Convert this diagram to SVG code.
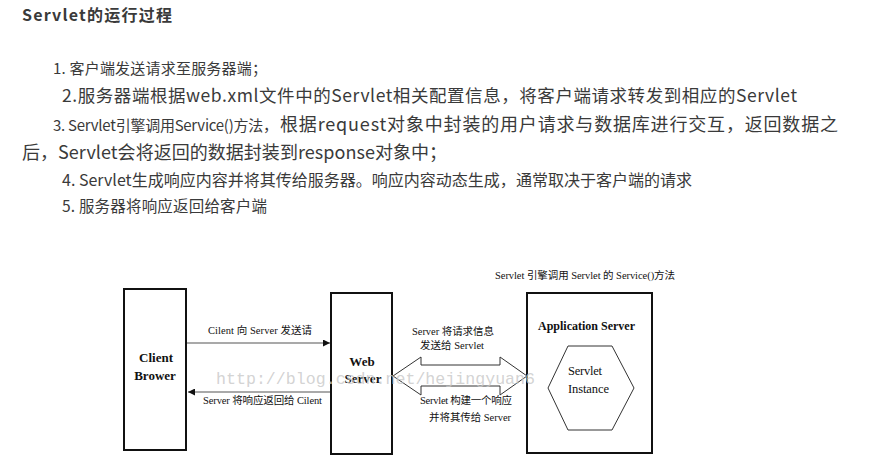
<svg xmlns="http://www.w3.org/2000/svg" width="884" height="468" viewBox="0 0 884 468">
<defs>
<style>
.t{font-family:"Noto Sans CJK SC","Noto Sans",sans-serif;fill:#3a3a3a}
.d{font-family:"Liberation Serif","Noto Sans CJK SC",serif;fill:#111;font-size:10.5px}
.h{font-family:"Liberation Serif","Noto Sans CJK SC",serif;fill:#111;font-size:12.5px}
.b{font-family:"Liberation Serif","Noto Sans CJK SC",serif;fill:#111;font-weight:bold}
.box{fill:none;stroke:#111;stroke-width:2}
.ln{stroke:#555;stroke-width:1.2;fill:none}
</style>
<marker id="ah" viewBox="0 0 8 8" refX="8" refY="4" markerWidth="7" markerHeight="7" markerUnits="userSpaceOnUse" orient="auto">
<path d="M0,0 L8,4 L0,8 Z" fill="#111"/>
</marker>
</defs>
<rect width="884" height="468" fill="#fff"/>
<g id="article">
<text class="t" x="22" y="21" font-size="16" font-weight="bold" textLength="150">Servlet的运行过程</text>
<text class="t" x="53" y="74" font-size="15" textLength="214">1. 客户端发送请求至服务器端；</text>
<text class="t" x="62" y="102" font-size="17.5" textLength="735">2.服务器端根据web.xml文件中的Servlet相关配置信息，将客户端请求转发到相应的Servlet</text>
<text class="t" x="53" y="131" font-size="15" textLength="225">3. Servlet引擎调用Service()方法，</text>
<text class="t" x="280" y="131" font-size="18" textLength="558">根据request对象中封装的用户请求与数据库进行交互，返回数据之</text>
<text class="t" x="22" y="159" font-size="18" textLength="425">后，Servlet会将返回的数据封装到response对象中；</text>
<text class="t" x="62" y="186" font-size="16" textLength="630">4. Servlet生成响应内容并将其传给服务器。响应内容动态生成，通常取决于客户端的请求</text>
<text class="t" x="62" y="212" font-size="15.5" textLength="205">5. 服务器将响应返回给客户端</text>
</g>
<g id="client">
<rect class="box" x="124" y="289" width="62" height="161"/>
<text class="b" x="156" y="362" font-size="13" text-anchor="middle">Client</text>
<text class="b" x="155" y="380" font-size="13" text-anchor="middle">Brower</text>
</g>
<g id="web">
<rect class="box" x="331" y="293" width="61" height="161"/>
<text class="b" x="362" y="366" font-size="13" text-anchor="middle">Web</text>
<text class="b" x="363" y="383" font-size="13" text-anchor="middle">Server</text>
</g>
<g id="app">
<text class="d" x="495" y="279" textLength="180">Servlet 引擎调用 Servlet 的 Service()方法</text>
<rect class="box" x="527" y="293" width="125" height="160"/>
<text class="b" x="538" y="330" font-size="12" textLength="97">Application Server</text>
<polygon points="548,388 568,346 612,346 634,388 612,430 568,430" fill="none" stroke="#333" stroke-width="1"/>
<text class="h" x="568" y="375" textLength="34">Servlet</text>
<text class="h" x="568" y="393" textLength="41">Instance</text>
</g>
<g id="connectors">
<line class="ln" x1="187" y1="343" x2="330" y2="343" marker-end="url(#ah)"/>
<text class="d" x="208" y="334" textLength="104">Cilent 向 Server 发送请</text>
<line class="ln" x1="330" y1="392" x2="188" y2="392" marker-end="url(#ah)"/>
<text class="d" x="203" y="404" textLength="119">Server 将响应返回给 Cilent</text>
<path d="M393,376 L421,357 L421,365 L500,365 L500,357 L527,376 L500,395 L500,386 L421,386 L421,395 Z" fill="#fff" stroke="#333" stroke-width="1"/>
<text class="d" x="412" y="335" textLength="82">Server 将请求信息</text>
<text class="d" x="420" y="349" textLength="64">发送给 Servlet</text>
<text class="d" x="420" y="404" textLength="92">Servlet 构建一个响应</text>
<text class="d" x="429" y="421" textLength="82">并将其传给 Server</text>
</g>
<text x="216" y="384" font-family="Liberation Mono, monospace" font-size="16.6" fill="#c8c8c8" fill-opacity="0.8" textLength="319">http://blog.csdn.net/hejingyuan6</text>
</svg>
